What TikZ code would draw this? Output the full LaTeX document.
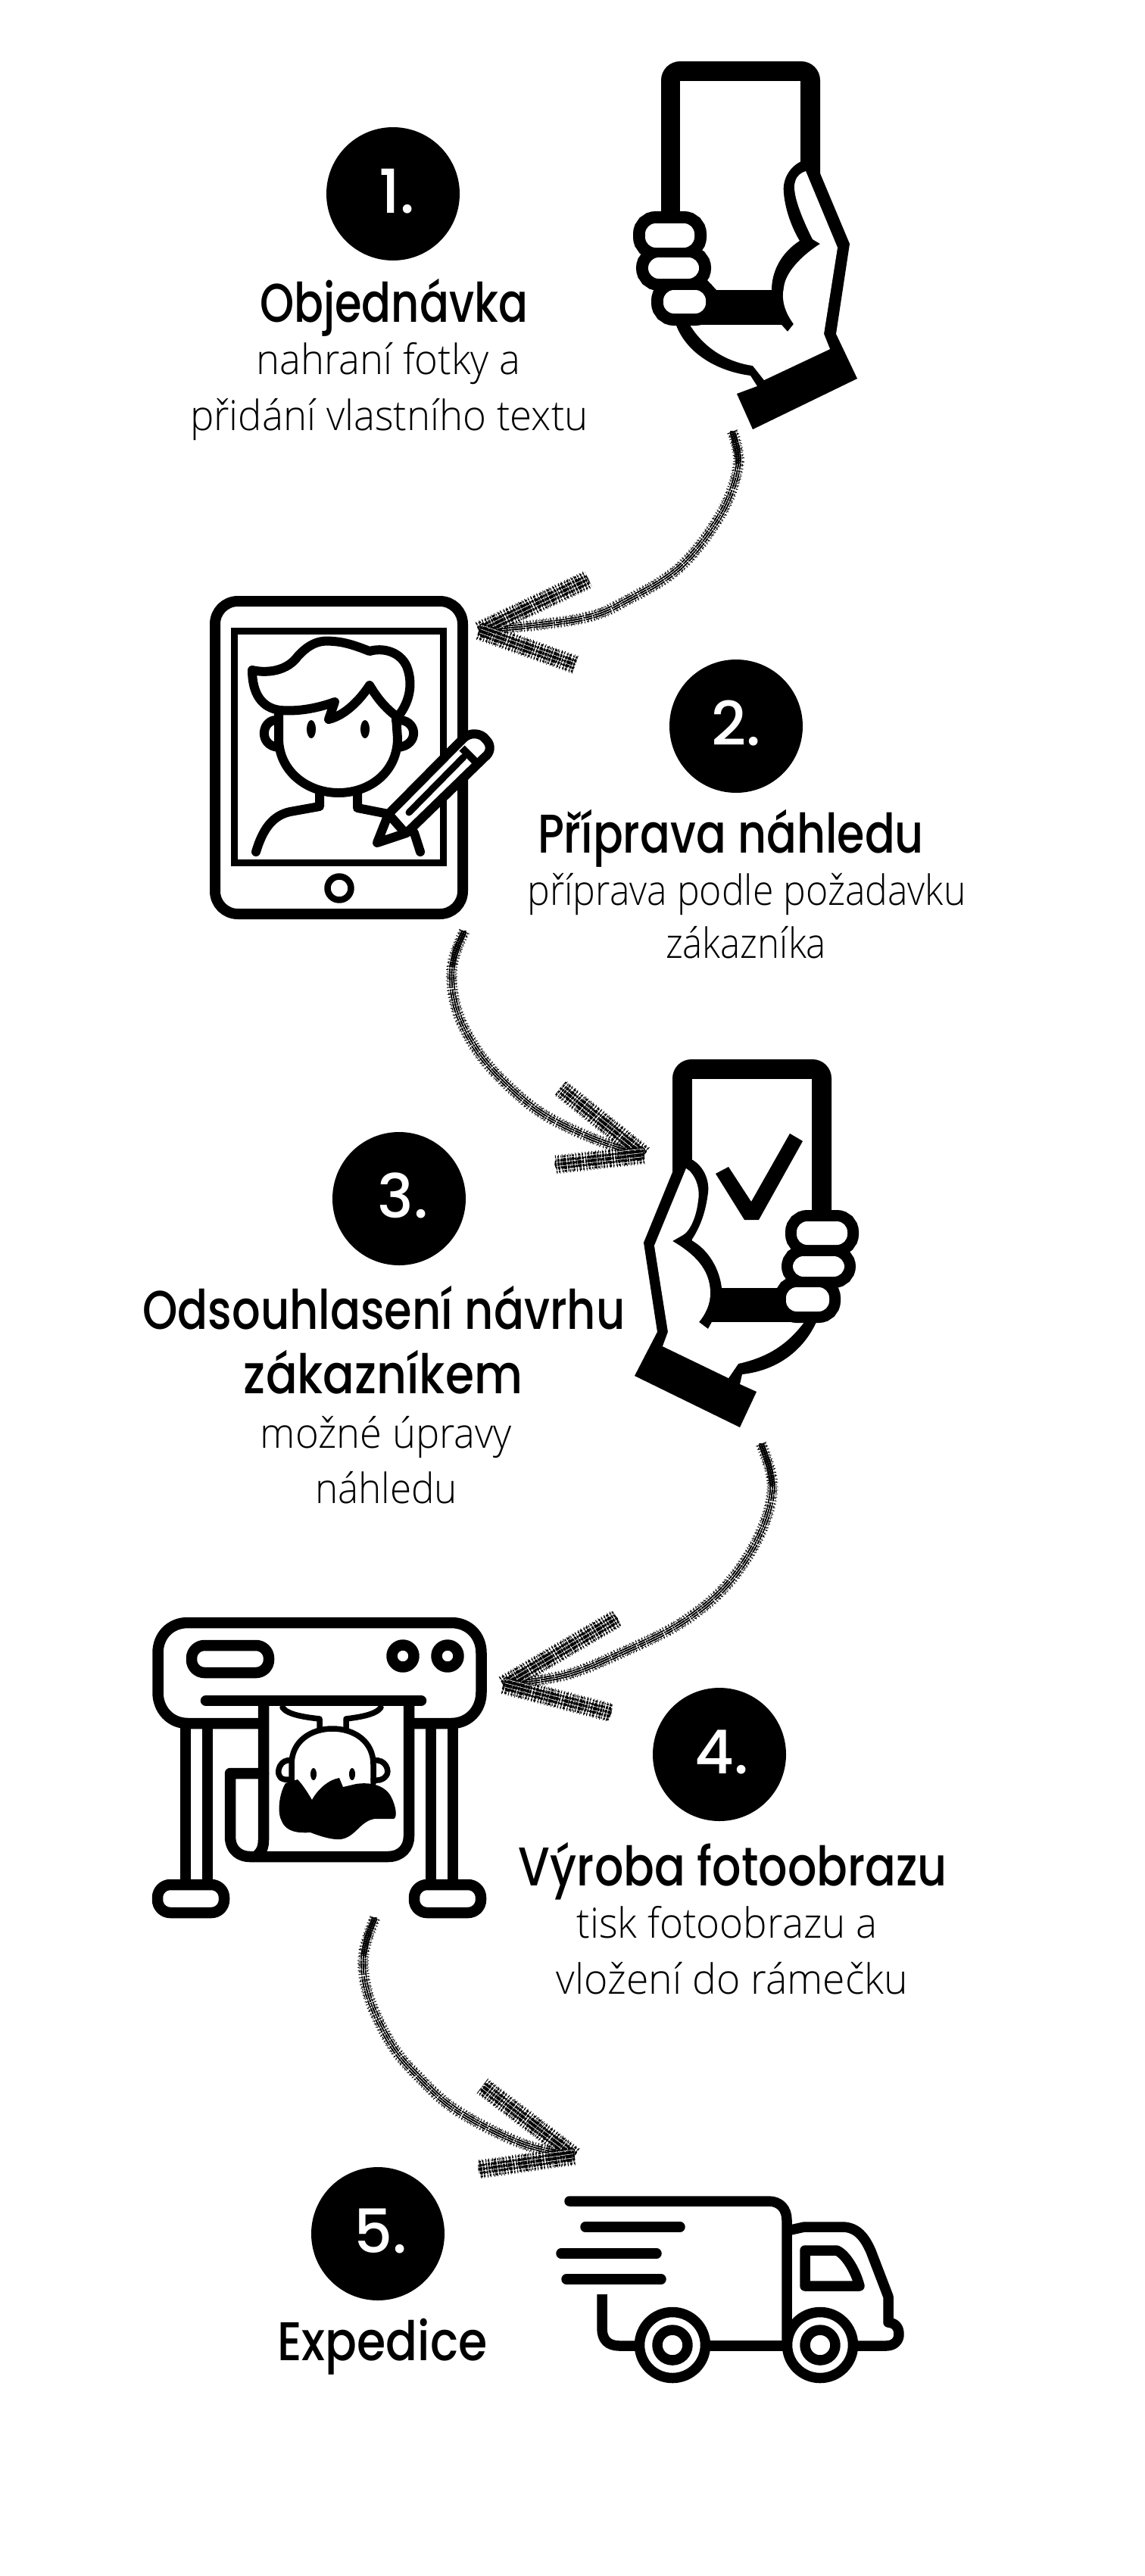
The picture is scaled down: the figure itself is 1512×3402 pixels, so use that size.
\documentclass[tikz,border=0pt]{standalone}
\usepackage{fontspec}
\usepackage{graphicx}
\usetikzlibrary{decorations.pathmorphing}
\setmainfont{Open Sans Light}
\newfontfamily\headfont{Poppins Medium}
\newfontfamily\numfont{Poppins Medium}

% Text helpers: width-fitted heading and body lines
\newcommand\headline[2]{\resizebox{#1pt}{\height}{\fontsize{72}{74}\headfont #2}}
\newcommand\bodyline[2]{\resizebox{#1pt}{\height}{\fontsize{55}{57}\selectfont #2}}

% Hatched crayon stroke used by the flow arrows
\newcommand\crayon[2]{%
  \draw[crayontick,line width=#2pt] #1;
  \draw[crayondots,line width=#2pt+3pt] #1;
  \pgfmathsetmacro\cw{#2*.55}
  \draw[crayonfine,line width=\cw pt] #1;
  \foreach \r in {-0.36,-0.12,0.12,0.36}{
    \pgfmathsetmacro\rr{\r*#2}
    \draw[white,line width=.6pt,decorate,decoration={curveto,segment length=6pt,raise=\rr pt}] #1;
  }
  \foreach \r in {-0.24,0,0.24}{
    \pgfmathsetmacro\rr{\r*#2}
    \draw[black,line width=1.4pt,dash pattern=on 6pt off 3pt on 2pt off 3pt on 9pt off 4pt,decorate,decoration={curveto,segment length=6pt,raise=\rr pt}] #1;
  }
}
\newcommand\crayonarrow[6]{% tip, shaft path, upper barb, lower barb, width, head of shaft
  \crayon{#2}{#5}
  \draw[line width=8pt,dash pattern=on 2pt off .7pt] #6;
  \crayon{(#1) -- (#3)}{22}
  \crayon{(#1) -- (#4)}{22}
}

\tikzset{
  crayontick/.style={black,dash pattern=on 1.6pt off 1.9pt on 3pt off 2.3pt on 1pt off 2.4pt on 2pt off 1.8pt on 1.2pt off 2.7pt},
  crayondots/.style={black,dash pattern=on .8pt off 4.1pt on .7pt off 3.3pt},
  crayonfine/.style={black,dash pattern=on 2.2pt off 1.3pt on 1.4pt off 1.7pt},
  badge/.style={circle,fill=black,minimum size=176pt,inner sep=0pt},
  numeral/.style={anchor=base,white,inner sep=0pt,font=\numfont\fontsize{80}{82}\selectfont},
  textline/.style={anchor=base,inner sep=0pt,black},
  fingerback/.style={draw=black,fill=black,rounded corners=14pt},
  fingerface/.style={fill=white,rounded corners=14pt},
  outline/.style={draw=black,line cap=round,line join=round},
  tabletpen/.style={outline,line width=12pt},
  printerpen/.style={outline,line width=14.5pt},
  truckpen/.style={outline,line width=13.5pt},
}

\begin{document}
\begin{tikzpicture}[x=1pt,y=-1pt]
\useasboundingbox[fill=white] (0,0) rectangle (1512,3402);

% ---------- numbered badges ----------
\node[badge] (b1) at (519,256) {};
\node[numeral] (n1) at (524,281) {1.};
\node[badge] (b2) at (972,959) {};
\node[numeral] (n2) at (972,984) {2.};
\node[badge] (b3) at (527,1583) {};
\node[numeral] (n3) at (532,1608) {3.};
\node[badge] (b4) at (950,2317) {};
\node[numeral] (n4) at (953,2342) {4.};
\node[badge] (b5) at (499,2950) {};
\node[numeral] (n5) at (503,2975) {5.};

% ---------- captions ----------
\node[textline] (t1) at (520,425) {\headline{354}{Objednávka}};
\node[textline] (t1a) at (513,494) {\bodyline{349}{nahraní fotky a}};
\node[textline] (t1b) at (514,568) {\bodyline{526}{přidání vlastního textu}};
\node[textline] (t2) at (965,1126) {\headline{510}{Příprava náhledu}};
\node[textline] (t2a) at (986,1195) {\bodyline{579}{příprava podle požadavku}};
\node[textline] (t2b) at (985,1265) {\bodyline{212}{zákazníka}};
\node[textline] (t3) at (507,1755) {\headline{637}{Odsouhlasení návrhu}};
\node[textline] (t3b) at (506,1840) {\headline{368}{zákazníkem}};
\node[textline] (t3c) at (510,1912) {\bodyline{332}{možné úpravy}};
\node[textline] (t3d) at (510,1985) {\bodyline{188}{náhledu}};
\node[textline] (t4) at (968,2490) {\headline{566}{Výroba fotoobrazu}};
\node[textline] (t4a) at (960,2559) {\bodyline{397}{tisk fotoobrazu a}};
\node[textline] (t4b) at (967,2633) {\bodyline{464}{vložení do rámečku}};
\node[textline] (t5) at (505,3117) {\headline{277}{Expedice}};

% ---------- hand holding a phone ----------
\fill[rounded corners=25pt] (873,81) rectangle (1083,427);
\fill[white] (898,107) rectangle (1057,383);
\fill (1058,213) .. controls (1040,222) and (1033,240) .. (1035,255)
  .. controls (1037,280) and (1048,305) .. (1056,318)
  .. controls (1030,335) and (1019,360) .. (1019,383)
  -- (946,383) -- (933,369) -- (900,375) -- (892,427)
  .. controls (905,465) and (945,490) .. (991,496)
  -- (1000,510) -- (973,520) -- (994,567) -- (1132,500) -- (1104,441)
  -- (1122,322) -- (1083,229) -- cycle;
\fill[white] (1064,226) -- (1106,327) -- (1088,441) -- (1096,461) -- (1009,502)
  -- (994,483) .. controls (960,478) and (930,460) .. (911,429)
  -- (1032,429) -- (1040,438) -- (1048,428)
  .. controls (1035,410) and (1032,395) .. (1035,380)
  .. controls (1037,360) and (1058,338) .. (1083,322)
  -- (1073,316) .. controls (1060,290) and (1045,255) .. (1050,240)
  .. controls (1052,232) and (1058,228) .. (1064,226) -- cycle;
\draw[fingerback,line width=32pt] (852,295) rectangle (917,327);
\draw[fingerback,line width=32pt] (856,340) rectangle (923,368);
\draw[fingerback,line width=32pt] (876,383) rectangle (932,414);
\fill[fingerface] (852,295) rectangle (917,327);
\fill[fingerface] (856,340) rectangle (923,368);
\fill[fingerface] (876,383) rectangle (932,414);

% ---------- tablet with portrait and pencil ----------
\draw[outline,line width=14pt,rounded corners=30pt] (284,794) rectangle (611,1207);
\draw[black,line width=9pt,line join=miter] (309,833) rectangle (585,1139);
\draw[outline,line width=8.5pt] (448,1173) circle[radius=15.5pt];
\draw[tabletpen] (333,885) .. controls (355,890) and (380,885) .. (393,867)
  .. controls (410,848) and (425,845) .. (440,847)
  .. controls (458,848) and (475,855) .. (488,860)
  .. controls (505,855) and (528,860) .. (537,880)
  .. controls (545,900) and (543,925) .. (525,947)
  .. controls (508,935) and (497,920) .. (488,905)
  .. controls (475,925) and (455,945) .. (434,950)
  -- (442,927) .. controls (420,935) and (395,940) .. (370,938)
  .. controls (345,935) and (333,915) .. (333,885) -- cycle;
\draw[tabletpen] (368,943) -- (368,975) .. controls (368,1018) and (405,1047) .. (447,1047)
  .. controls (490,1047) and (525,1018) .. (525,975) -- (523,947);
\draw[tabletpen] (368,951) .. controls (345,948) and (340,985) .. (368,987);
\draw[tabletpen] (523,951) .. controls (552,948) and (555,985) .. (525,987);
\fill (411,963) ellipse[x radius=6pt,y radius=12pt];
\fill (482,963) ellipse[x radius=6pt,y radius=12pt];
\draw[tabletpen] (422,1045) -- (422,1065) -- (383,1072)
  .. controls (360,1077) and (347,1095) .. (338,1125);
\draw[tabletpen] (472,1045) -- (472,1067) -- (513,1075);
\draw[tabletpen] (547,1100) -- (555,1125);
\draw[tabletpen,fill=white] (513,1075) -- (612,975) .. controls (620,967) and (635,967) .. (642,977)
  .. controls (650,985) and (647,995) .. (640,1000) -- (537,1100) -- (498,1113) -- cycle;
\draw[tabletpen] (513,1075) -- (535,1100);
\draw[tabletpen,line width=10pt,line cap=butt] (610,988) -- (627,1005);
\draw[tabletpen,line width=9pt] (540,1073) -- (612,1000);

% ---------- hand holding a phone with a check mark ----------
\fill[rounded corners=25pt] (888,1399) rectangle (1098,1746);
\fill[white] (914,1425) rectangle (1072,1701);
\fill (945,1550) -- (962,1541) -- (992,1587) -- (1043,1497) -- (1060,1507) -- (1002,1611) -- (983,1611) -- cycle;
\fill (913,1531) .. controls (930,1540) and (937,1560) .. (935,1575)
  .. controls (932,1600) and (925,1620) .. (913,1638)
  .. controls (935,1650) and (950,1675) .. (953,1701)
  -- (1027,1701) -- (1045,1690) -- (1075,1710) -- (1078,1746)
  .. controls (1060,1785) and (1025,1810) .. (980,1815)
  -- (977,1828) -- (999,1838) -- (977,1885) -- (838,1817) -- (868,1759)
  -- (850,1641) -- (888,1548) -- cycle;
\fill[white] (906,1543) .. controls (918,1550) and (925,1570) .. (922,1585)
  .. controls (920,1605) and (912,1625) .. (902,1631) -- (888,1639)
  .. controls (915,1655) and (938,1675) .. (938,1708)
  .. controls (938,1722) and (932,1735) .. (923,1746)
  -- (935,1755) -- (940,1746) -- (1062,1746)
  .. controls (1040,1775) and (1015,1792) .. (975,1801)
  -- (962,1820) -- (875,1778) -- (882,1759) -- (864,1645) -- cycle;
\draw[fingerback,line width=30pt] (1052,1613) rectangle (1119,1644);
\draw[fingerback,line width=30pt] (1047,1659) rectangle (1115,1686);
\draw[fingerback,line width=30pt] (1038,1700) rectangle (1095,1732);
\fill[fingerface] (1052,1613) rectangle (1119,1644);
\fill[fingerface] (1047,1659) rectangle (1115,1686);
\fill[fingerface] (1038,1700) rectangle (1095,1732);

% ---------- large format printer ----------
\draw[printerpen,line cap=butt] (348,2276) -- (248,2276) .. controls (225,2276) and (208.5,2258) .. (208.5,2235)
  -- (208.5,2183) .. controls (208.5,2160) and (225,2143) .. (248,2143)
  -- (596,2143) .. controls (619,2143) and (635.5,2160) .. (635.5,2183)
  -- (635.5,2235) .. controls (635.5,2258) and (619,2276) .. (596,2276) -- (540,2276);
\draw[printerpen,rounded corners=17pt] (253,2173) rectangle (355,2209);
\draw[printerpen] (532,2187) circle[radius=14.5pt];
\draw[printerpen] (591,2187) circle[radius=14.5pt];
\draw[printerpen,line cap=butt] (245,2280) -- (245,2490);
\draw[printerpen,line cap=butt] (274,2280) -- (274,2490);
\draw[printerpen,line cap=butt] (569,2280) -- (569,2490);
\draw[printerpen,line cap=butt] (598,2280) -- (598,2490);
\draw[printerpen,rounded corners=17pt] (208,2489) rectangle (296,2526);
\draw[printerpen,rounded corners=17pt] (547,2489) rectangle (635,2526);
\draw[printerpen,line cap=butt] (348,2250) -- (348,2430) .. controls (348,2440) and (345,2446) .. (338,2452);
\draw[printerpen] (348,2342) -- (304,2342) -- (304,2425)
  .. controls (304,2445) and (318,2452) .. (330,2452) -- (512,2452)
  .. controls (530,2452) and (540,2440) .. (540,2425) -- (540,2250);
\draw[outline,line width=7.5pt] (373,2255) .. controls (380,2265) and (405,2268) .. (422,2270) -- (422,2285);
\draw[outline,line width=7.5pt] (503,2255) .. controls (496,2265) and (472,2268) .. (457,2270) -- (457,2285);
\draw[outline,line width=7.5pt] (385,2355) -- (385,2330) .. controls (385,2300) and (410,2283) .. (439,2283)
  .. controls (468,2283) and (493,2300) .. (493,2330) -- (493,2355);
\draw[outline,line width=7.5pt] (385,2325) .. controls (370,2322) and (365,2340) .. (369,2345)
  .. controls (372,2352) and (380,2350) .. (385,2350);
\draw[outline,line width=7.5pt] (493,2325) .. controls (510,2322) and (515,2340) .. (510,2345)
  .. controls (505,2352) and (497,2352) .. (493,2350);
\fill (414,2343) ellipse[x radius=4pt,y radius=8pt];
\fill (465,2343) ellipse[x radius=4pt,y radius=8pt];
\fill (377,2355) .. controls (368,2370) and (366,2395) .. (372,2405)
  .. controls (378,2420) and (395,2421) .. (410,2420)
  .. controls (425,2426) and (440,2430) .. (450,2429)
  .. controls (470,2426) and (475,2405) .. (495,2402)
  -- (520,2402) .. controls (525,2400) and (523,2385) .. (516,2372)
  .. controls (508,2358) and (490,2353) .. (470,2356) -- (453,2360) -- (448,2348)
  .. controls (435,2350) and (420,2362) .. (412,2377)
  .. controls (405,2365) and (398,2355) .. (393,2350) -- cycle;
\draw[printerpen] (272,2246) -- (556,2246);

% ---------- delivery truck ----------
\draw[truckpen] (752,2907) -- (1015,2907) .. controls (1030,2907) and (1039,2917) .. (1039,2932) -- (1039,3098);
\draw[truckpen] (773,2941) -- (898,2941);
\draw[truckpen] (741,2976) -- (867,2976);
\draw[truckpen] (748,3010) -- (873,3010);
\draw[truckpen,line cap=butt] (795,3030) -- (795,3075) .. controls (795,3090) and (803,3098) .. (818,3098) -- (850,3098);
\draw[truckpen] (880,3098) -- (1090,3098);
\draw[truckpen] (1090,3098) -- (1170,3098) .. controls (1182,3098) and (1187,3090) .. (1187,3083)
  .. controls (1187,3073) and (1182,3068) .. (1173,3067) -- (1173,3033) -- (1150,2973)
  .. controls (1142,2955) and (1132,2941) .. (1112,2941) -- (1062,2941) -- (1044,2945);
\draw[truckpen] (1063,2972) -- (1105,2972) .. controls (1118,2978) and (1130,3000) .. (1135,3019) -- (1063,3019) -- cycle;
\draw[truckpen,fill=white] (888,3097) circle[radius=43.5pt];
\draw[truckpen] (888,3097) circle[radius=20pt];
\draw[truckpen,fill=white] (1083,3097) circle[radius=43.5pt];
\draw[truckpen] (1083,3097) circle[radius=20pt];

% ---------- flow arrows ----------
\coordinate (a1s) at (967,570);  \coordinate (a1t) at (633,833);
\coordinate (a1u) at (777,765);  \coordinate (a1l) at (760,878);
\crayonarrow{a1t}{plot[smooth,tension=.6] coordinates {(a1s) (975,613) (953,677) (900,747) (833,790) (767,817) (a1t)}}{a1u}{a1l}{12}{plot[smooth] coordinates {(a1s) (973,595) (975,613)}}

\coordinate (a2s) at (613,1230); \coordinate (a2t) at (850,1525);
\coordinate (a2u) at (740,1437); \coordinate (a2l) at (733,1538);
\crayonarrow{a2t}{plot[smooth,tension=.6] coordinates {(a2s) (597,1277) (603,1333) (630,1387) (670,1433) (720,1473) (787,1505) (a2t)}}{a2u}{a2l}{12}{plot[smooth] coordinates {(a2s) (602,1255) (597,1277)}}

\coordinate (a3s) at (1005,1907); \coordinate (a3t) at (665,2225);
\coordinate (a3u) at (815,2137);  \coordinate (a3l) at (807,2262);
\crayonarrow{a3t}{plot[smooth,tension=.6] coordinates {(a3s) (1020,1963) (1003,2027) (960,2093) (900,2143) (820,2183) (747,2212) (a3t)}}{a3u}{a3l}{12}{plot[smooth] coordinates {(a3s) (1015,1935) (1020,1963)}}

\coordinate (a4s) at (495,2533); \coordinate (a4t) at (758,2847);
\coordinate (a4u) at (637,2755); \coordinate (a4l) at (632,2865);
\crayonarrow{a4t}{plot[smooth,tension=.6] coordinates {(a4s) (480,2583) (487,2637) (517,2700) (553,2743) (603,2787) (687,2830) (a4t)}}{a4u}{a4l}{12}{plot[smooth] coordinates {(a4s) (486,2555) (480,2583)}}
\end{tikzpicture}
\end{document}
